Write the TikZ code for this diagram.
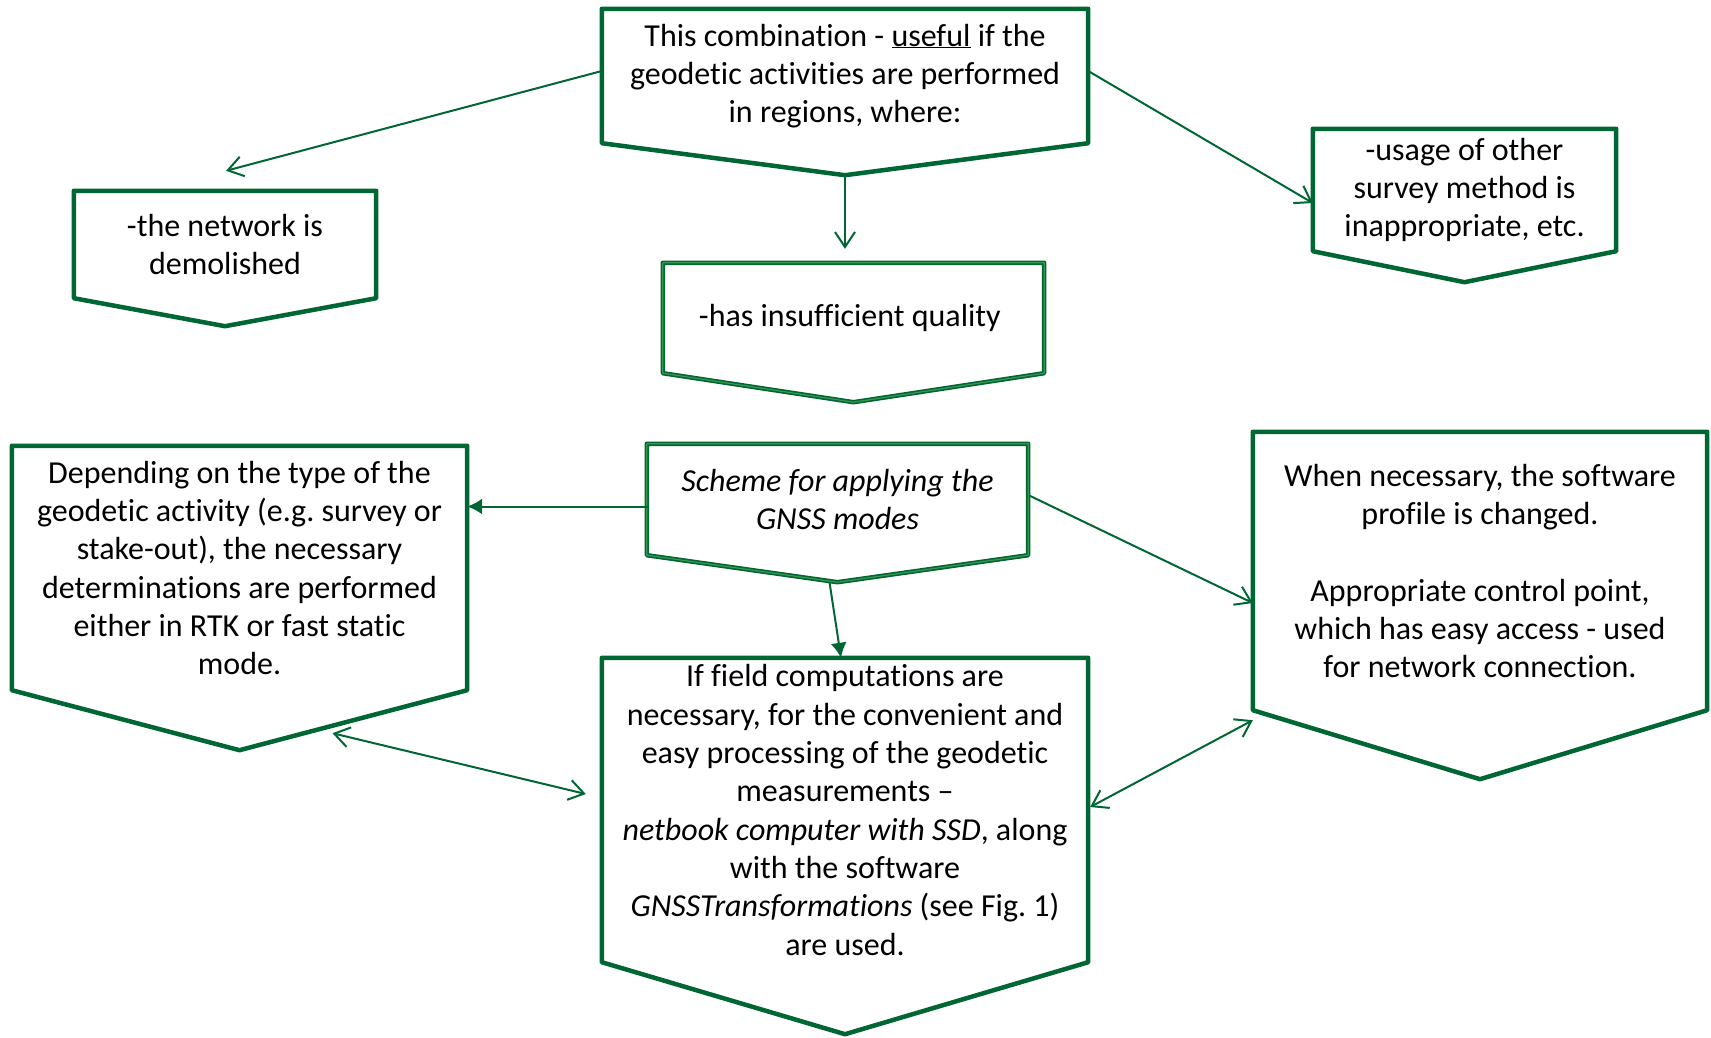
\documentclass[tikz,border=0pt]{standalone}
\usepackage{fontspec}
\setmainfont{Carlito}[Ligatures=CommonOff]
\frenchspacing
\usetikzlibrary{arrows.meta,calc,positioning}
\definecolor{dkgreen}{RGB}{0,102,51}
\definecolor{ltgreen}{RGB}{60,150,80}

\begin{document}
\begin{tikzpicture}[x=1pt,y=1pt,
  panel/.style={rectangle, inner sep=0pt, align=center,
    font=\fontsize{32}{38.3}\selectfont},
  boxline/.style={draw=dkgreen, line width=4.5pt, line join=round},
  fineline/.style={draw=ltgreen, line width=1.2pt, line join=round},
  openarr/.style={draw=dkgreen, line width=2pt, -{Straight Barb[length=15pt,width=20pt]}},
  twoarr/.style={draw=dkgreen, line width=2pt, {Straight Barb[length=15pt,width=20pt]}-{Straight Barb[length=15pt,width=20pt]}},
  fullarr/.style={draw=dkgreen, line width=2pt, -{Latex[length=15pt,width=16pt]}}]

\useasboundingbox (0,0) rectangle (1711,-1037);

% top row
\node[panel, minimum width=486, minimum height=134] at (845,-76) (useful) {
This combination - \underline{useful} if the\\
geodetic activities are performed\\
in regions, where:
};

\node[panel, minimum width=302, minimum height=107] at (225,-244.5) (demol) {
-the network is\\
demolished
};

\node[panel, minimum width=303, minimum height=122] at (1464.5,-190) (usage) {
-usage of other\\
survey method is\\
inappropriate, etc.
};

\node[panel, minimum width=381, minimum height=110] at (853.5,-318) (insuf) {
-has insufficient quality
};

% bottom row
\node[panel, minimum width=381, minimum height=111] at (837.5,-499.5) (scheme) {
\textit{Scheme for applying the}\\
\textit{GNSS modes}
};

\node[panel, minimum width=455, minimum height=244] at (239.5,-568) (depend) {
Depending on the type of the\\
geodetic activity (e.g. survey or\\
stake-out), the necessary\\
determinations are performed\\
either in RTK or fast static\\
mode.
};

\node[panel, minimum width=486, minimum height=304] at (845,-810) (comp) {
If field computations are\\
necessary, for the convenient and\\
easy processing of the geodetic\\
measurements --\\
\textit{netbook computer with SSD}, along\\
with the software\\
\textit{GNSSTransformations} (see Fig. 1)\\
are used.
};

\node[panel, minimum width=454, minimum height=278] at (1480,-571) (profile) {
When necessary, the software\\
profile is changed.\\[38.3pt]
Appropriate control point,\\
which has easy access - used\\
for network connection.
};

% pointed outlines
\foreach \n/\d in {useful/32, demol/28, usage/31, insuf/29, scheme/27, depend/60, comp/72, profile/69}{
  \coordinate (\n-tip) at ($(\n.south)+(0,-\d)$);
  \draw[boxline] (\n.north west) -- (\n.north east) -- (\n.south east)
    -- (\n-tip) -- (\n.south west) -- cycle;
}
\foreach \n in {insuf, scheme}{
  \draw[fineline] (\n.north west) -- (\n.north east) -- (\n.south east)
    -- (\n-tip) -- (\n.south west) -- cycle;
}

\draw[openarr] ($(useful.west)+(0,5)$) -- ($(demol.north)+(1,20)$);
\draw[openarr] (useful-tip) -- ($(useful-tip |- insuf.north)+(0,14)$);
\draw[openarr] ($(useful.east)+(0,5)$) -- ($(usage.west)+(0,-13)$);

\draw[fullarr] ($(scheme.west)+(1,-7)$) -- ($(scheme.west -| depend.east)+(0,-7)$);
\draw[fullarr] ($(scheme-tip)+(-8,0)$) -- ($(comp.north)+(-4,0)$);
\draw[openarr] ($(scheme.east)+(1,4)$) -- ($(profile.west)+(0,-32)$);

\draw[twoarr] ($(depend-tip)+(93,17)$) -- ($(comp.west)+(-16,16)$);
\draw[twoarr] ($(comp.east)+(2,3)$) -- ($(profile.south west)+(0,-10)$);

\end{tikzpicture}
\end{document}
